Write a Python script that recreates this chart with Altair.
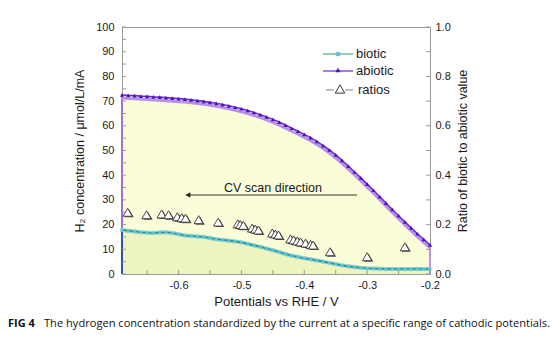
import altair as alt
import pandas as pd

# ---------------- data ----------------
potential = [-0.69, -0.68, -0.67, -0.66, -0.65, -0.64, -0.63, -0.62, -0.61, -0.60,
             -0.59, -0.58, -0.57, -0.56, -0.55, -0.54, -0.53, -0.52, -0.51, -0.50,
             -0.49, -0.48, -0.47, -0.46, -0.45, -0.44, -0.43, -0.42, -0.41, -0.40,
             -0.39, -0.38, -0.37, -0.36, -0.35, -0.34, -0.33, -0.32, -0.31, -0.30,
             -0.29, -0.28, -0.27, -0.26, -0.25, -0.24, -0.23, -0.22, -0.21, -0.20]
abiotic = [72.5, 72.3, 72.2, 72.0, 71.9, 71.7, 71.6, 71.4, 71.2, 71.0,
           70.8, 70.5, 70.2, 69.9, 69.5, 69.1, 68.6, 68.1, 67.5, 66.9,
           66.2, 65.4, 64.5, 63.6, 62.6, 61.5, 60.3, 59.0, 57.8, 56.5,
           55.2, 53.7, 52.0, 50.2, 48.2, 46.0, 43.7, 41.3, 38.9, 36.4,
           33.9, 31.3, 28.7, 26.1, 23.6, 21.1, 18.7, 16.3, 14.0, 11.8]
biotic = [17.8, 17.5, 17.2, 16.9, 16.7, 16.6, 16.8, 16.9, 16.6, 16.1,
          15.6, 15.4, 15.2, 15.0, 14.6, 14.1, 13.8, 13.5, 13.2, 12.8,
          12.2, 11.6, 11.0, 10.3, 9.6, 8.9, 8.1, 7.4, 6.9, 6.4,
          6.0, 5.5, 5.0, 4.5, 4.0, 3.5, 3.1, 2.8, 2.5, 2.3,
          2.2, 2.1, 2.0, 2.0, 2.0, 2.0, 2.0, 2.0, 2.0, 2.0]

ratio_pot = [-0.681, -0.651, -0.627, -0.616, -0.602, -0.595, -0.589, -0.568, -0.537,
             -0.506, -0.502, -0.497, -0.483, -0.478, -0.473, -0.451, -0.446, -0.441,
             -0.422, -0.417, -0.411, -0.406, -0.398, -0.390, -0.386, -0.359, -0.300, -0.240]
ratio_val = [0.250, 0.240, 0.243, 0.240, 0.232, 0.228, 0.226, 0.220, 0.210,
             0.203, 0.200, 0.197, 0.186, 0.182, 0.178, 0.166, 0.162, 0.158,
             0.142, 0.138, 0.134, 0.130, 0.125, 0.120, 0.117, 0.090, 0.070, 0.110]

x_label_vals = [-0.6, -0.5, -0.4, -0.3, -0.2]
x_tick_vals = [-0.65, -0.6, -0.55, -0.5, -0.45, -0.4, -0.35, -0.3, -0.25, -0.2]
y_label_vals = [0, 10, 20, 30, 40, 50, 60, 70, 80, 90, 100]
y_tick_vals = [0, 5, 10, 15, 20, 25, 30, 35, 40, 45, 50, 55, 60, 65, 70, 75, 80, 85, 90, 95, 100]
r_label_vals = [0.0, 0.2, 0.4, 0.6, 0.8, 1.0]
r_tick_vals = [0.0, 0.1, 0.2, 0.3, 0.4, 0.5, 0.6, 0.7, 0.8, 0.9, 1.0]

legend_labels = ["biotic", "abiotic", "ratios"]
caption_bold = "FIG 4"
caption_text = "The hydrogen concentration standardized by the current at a specific range of cathodic potentials."

# ---------------- styling ----------------
W, H = 308, 247
FONT = "Liberation Sans"
AX_GREY = "#9a9a9a"
TXT = "#1a1a1a"

xs = alt.Scale(domain=[-0.69, -0.2], nice=False, zero=False)
ys = alt.Scale(domain=[0, 100], nice=False)
rs = alt.Scale(domain=[0, 1], nice=False)

df = pd.DataFrame({"pot": potential, "abiotic": abiotic, "biotic": biotic})
rdf = pd.DataFrame({"pot": ratio_pot, "ratio": ratio_val})

x_axis = alt.Axis(values=x_label_vals, format=".1f",
                  labelExpr="replace(datum.label, '\u2212', '-')",
                  tickSize=0, labelPadding=5, labelFlush=False, domainColor=AX_GREY,
                  labelFont=FONT, labelFontSize=11, labelColor=TXT,
                  title="Potentials vs RHE / V", titleFont=FONT, titleFontSize=13,
                  titleFontWeight="normal", titleColor=TXT, titlePadding=5, grid=False)
X = alt.X("pot:Q", scale=xs, axis=x_axis)

y_axis = alt.Axis(orient="left", values=y_label_vals, tickSize=0, labelPadding=8,
                  domainColor=AX_GREY, labelFont=FONT, labelFontSize=11, labelColor=TXT,
                  title="H\u2082 concentration / \u03bcmol/L/mA", titleFont=FONT,
                  titleFontSize=12.5, titleFontWeight="normal", titleColor=TXT,
                  titlePadding=9, grid=False)


def YL(field):
    return alt.Y(field, scale=ys, axis=y_axis)


area_ab = alt.Chart(df).mark_area(color="#FBFDD9", opacity=1).encode(x=X, y=YL("abiotic:Q"))
area_bi = alt.Chart(df).mark_area(color="#EEF4BF", opacity=1).encode(x=X, y=YL("biotic:Q"))

edge = pd.DataFrame({"pot": [potential[0]], "lo": [0], "hi": [abiotic[0]], "hb": [biotic[0]]})
edge_r = pd.DataFrame({"pot": [potential[-1]], "lo": [0], "hi": [abiotic[-1]]})
edge_ab = alt.Chart(edge).mark_rule(color="#9F6FE0", strokeWidth=2).encode(
    x=X, y=YL("lo:Q"), y2="hi:Q")
edge_bi = alt.Chart(edge).mark_rule(color="#2A55A8", strokeWidth=2).encode(
    x=X, y=YL("lo:Q"), y2="hb:Q")
edge_rr = alt.Chart(edge_r).mark_rule(color="#B895E8", strokeWidth=2).encode(
    x=X, y=YL("lo:Q"), y2="hi:Q")

ab_shadow = alt.Chart(df).mark_line(color="#B892EA", strokeWidth=3, yOffset=3).encode(
    x=X, y=YL("abiotic:Q"))
ab_line = alt.Chart(df).mark_line(color="#6B2BD9", strokeWidth=1.6).encode(
    x=X, y=YL("abiotic:Q"))
ab_pts = alt.Chart(df).mark_point(shape="triangle-up", filled=True, size=18,
                                  color="#5010C0", opacity=1).encode(x=X, y=YL("abiotic:Q"))

bi_shadow = alt.Chart(df).mark_line(color="#8FD6D8", strokeWidth=4).encode(
    x=X, y=YL("biotic:Q"))
bi_line = alt.Chart(df).mark_line(color="#2B8E90", strokeWidth=1.6).encode(
    x=X, y=YL("biotic:Q"))
bi_pts = alt.Chart(df).mark_point(shape="cross", angle=45, filled=True, size=18,
                                  color="#6FC9CE", opacity=0.85).encode(x=X, y=YL("biotic:Q"))

# inward ticks
lt = pd.DataFrame({"v": y_tick_vals})
left_ticks = alt.Chart(lt).mark_rule(color=AX_GREY, strokeWidth=1).encode(
    y=YL("v:Q"), x=alt.value(0), x2=alt.value(4))
bt = pd.DataFrame({"pot": x_tick_vals})
bottom_ticks = alt.Chart(bt).mark_rule(color=AX_GREY, strokeWidth=1).encode(
    x=X, y=alt.value(H - 4), y2=alt.value(H))

# annotation: CV scan direction
one = pd.DataFrame({"k": [0]})
arrow_line = alt.Chart(one).mark_rule(color="#333333", strokeWidth=1).encode(
    x=alt.value(64), x2=alt.value(235), y=alt.value(168))
arrow_head = alt.Chart(one).mark_point(shape="triangle-left", filled=True, size=30,
                                       color="#222222", opacity=1).encode(
    x=alt.value(66), y=alt.value(168))
arrow_text = alt.Chart(one).mark_text(text="CV scan direction", font=FONT, fontSize=12.5,
                                      color=TXT, align="center", baseline="middle").encode(
    x=alt.value(151), y=alt.value(161))

# legend
leg_bi_line = alt.Chart(one).mark_rule(color="#6CC08E", strokeWidth=1.5).encode(
    x=alt.value(201), x2=alt.value(231), y=alt.value(27))
leg_bi_pt = alt.Chart(one).mark_point(shape="cross", angle=45, filled=True, size=28,
                                      color="#6FB8D6", opacity=1).encode(
    x=alt.value(216), y=alt.value(27))
leg_ab_line = alt.Chart(one).mark_rule(color="#8A4FE0", strokeWidth=1.5).encode(
    x=alt.value(201), x2=alt.value(231), y=alt.value(44))
leg_ab_pt = alt.Chart(one).mark_point(shape="triangle-up", filled=True, size=30,
                                      color="#5513C4", opacity=1).encode(
    x=alt.value(216), y=alt.value(43))
leg_r_line1 = alt.Chart(one).mark_rule(color="#999999", strokeWidth=1.2).encode(
    x=alt.value(204), x2=alt.value(212), y=alt.value(63))
leg_r_line2 = alt.Chart(one).mark_rule(color="#999999", strokeWidth=1.2).encode(
    x=alt.value(223), x2=alt.value(231), y=alt.value(63))
leg_r_pt = alt.Chart(one).mark_point(shape="triangle-up", filled=True, size=90,
                                     fill="white", stroke="#333333", strokeWidth=1,
                                     opacity=1).encode(x=alt.value(218), y=alt.value(62))
leg_df = pd.DataFrame({"label": legend_labels, "py": [27, 44, 63], "px": [234, 234, 236]})
leg_text = alt.Chart(leg_df).mark_text(font=FONT, fontSize=13, color=TXT, align="left",
                                       baseline="middle").encode(
    x=alt.X("px:Q", scale=None), y=alt.Y("py:Q", scale=None), text="label:N")

# caption
cap1 = alt.Chart(one).mark_text(text=caption_bold, font="Open Sans", fontSize=11,
                                fontWeight="bold", color="#111111", align="left",
                                baseline="middle").encode(x=alt.value(-114), y=alt.value(297))
cap2 = alt.Chart(one).mark_text(text=caption_text, font="Open Sans", fontSize=11.1,
                                color="#111111", align="left",
                                baseline="middle").encode(x=alt.value(-78), y=alt.value(297))

left_group = alt.layer(area_ab, area_bi, edge_ab, edge_bi, edge_rr, ab_shadow, ab_line,
                       ab_pts, bi_shadow, bi_line, bi_pts, left_ticks, bottom_ticks,
                       arrow_line, arrow_head, arrow_text,
                       leg_bi_line, leg_bi_pt, leg_ab_line, leg_ab_pt,
                       leg_r_line1, leg_r_line2, leg_r_pt, leg_text, cap1, cap2)

r_axis = alt.Axis(orient="right", values=r_label_vals, format=".1f", tickSize=0,
                  labelPadding=5, domainColor=AX_GREY, labelFont=FONT, labelFontSize=11,
                  labelColor=TXT, title="Ratio of biotic to abiotic value", titleFont=FONT,
                  titleFontSize=12.5, titleFontWeight="normal", titleColor=TXT,
                  titleAngle=270, titleBaseline="middle", titleAlign="center",
                  titleX=32, titleY=H / 2, grid=False)


def YR(field):
    return alt.Y(field, scale=rs, axis=r_axis)


r_shadow = alt.Chart(rdf).mark_point(shape="triangle-up", filled=True, size=85,
                                     color="#555555", opacity=1, xOffset=1.5, yOffset=1).encode(
    x=X, y=YR("ratio:Q"))
r_pts = alt.Chart(rdf).mark_point(shape="triangle-up", filled=True, size=85, fill="white",
                                  stroke="#333333", strokeWidth=0.9, opacity=1).encode(
    x=X, y=YR("ratio:Q"))
rt = pd.DataFrame({"v": r_tick_vals})
right_ticks = alt.Chart(rt).mark_rule(color=AX_GREY, strokeWidth=1).encode(
    y=YR("v:Q"), x=alt.value(W - 4), x2=alt.value(W))

right_group = alt.layer(r_shadow, r_pts, right_ticks)

chart = alt.layer(left_group, right_group).resolve_scale(y="independent").properties(
    width=W, height=H,
    padding={"left": 122, "top": 27, "right": 124, "bottom": 76},
    autosize=alt.AutoSizeParams(type="none"),
    background="white",
).configure_view(stroke=AX_GREY, strokeWidth=1)

chart.save("out.html", embed_options={"renderer": "svg", "actions": False})
